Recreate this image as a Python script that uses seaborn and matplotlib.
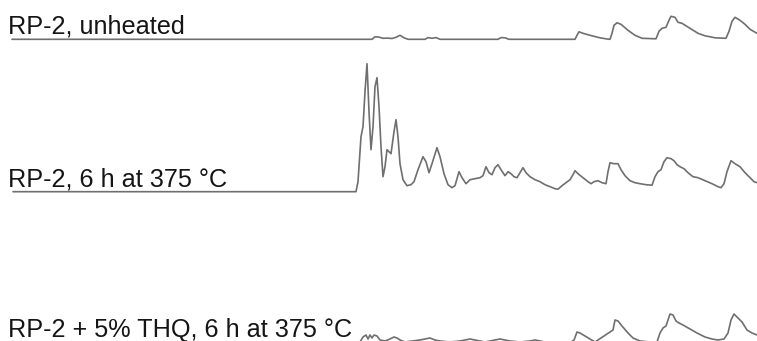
import numpy as np
import pandas as pd
import matplotlib
matplotlib.use("Agg")
import matplotlib.pyplot as plt
import seaborn as sns

# ---- data (retention position, signal height above each trace's baseline) ----
labels = ["RP-2, unheated", "RP-2, 6 h at 375 \u00b0C", "RP-2 + 5% THQ, 6 h at 375 \u00b0C"]

t1_x = [12, 372, 375, 379, 383, 387, 392, 396, 400, 404, 408, 425, 428, 432, 436, 440, 498, 501, 505, 509,
        575, 577, 579, 583, 590, 600, 607, 610, 612, 614, 617, 621, 628, 635, 642, 656, 659, 662, 666, 669,
        671, 675, 678, 682, 690, 698, 705, 715, 726, 729, 732, 735, 740, 745, 750, 757]
t1_y = [0, 0, 2.5, 2.2, 1.0, 1.2, 0.8, 2.0, 4.0, 1.5, 0, 0, 1.7, 1.0, 1.7, 0, 0, 1.7, 1.5, 0,
        0, 4, 7.5, 6, 4, 1.5, 0.3, 0, 6, 14, 16.5, 15, 9, 4, 1, 0.5, 8, 11, 12, 19,
        23, 22, 17, 16, 11, 6, 3.5, 1.5, 1, 8, 18, 22, 19, 15, 10, 6]

t2_x = [13, 356, 358, 361, 363, 365, 367, 369, 371, 373, 375, 377, 379, 381, 383, 385, 387, 389, 391, 394,
        396, 398, 400, 403, 407, 411, 414, 418, 423, 426, 429, 432, 437, 440, 444, 448, 452, 455, 459, 462,
        466, 470, 475, 480, 483, 486, 489, 492, 495, 498, 501, 505, 508, 511, 514, 517, 520, 523, 526, 530,
        535, 540, 545, 550, 555, 558, 562, 566, 570, 573, 575, 578, 583, 588, 591, 594, 598, 602, 606, 608,
        610, 614, 618, 621, 625, 630, 635, 640, 646, 652, 655, 658, 661, 664, 667, 671, 674, 677, 680, 684,
        688, 693, 698, 705, 712, 718, 721, 724, 727, 731, 735, 740, 745, 750, 754, 757]
t2_y = [0, 0, 10, 55, 65, 100, 128, 80, 42, 65, 105, 114, 85, 45, 15, 25, 42, 40, 38, 60,
        72, 55, 28, 12, 6, 7, 10, 22, 35, 30, 19, 28, 44, 35, 18, 7, 4, 6, 20, 14,
        8, 12, 13, 14, 16, 25, 19, 17, 24, 27, 22, 16, 20, 18, 15, 14, 19, 24, 19, 15,
        12, 10, 7, 5, 3, 2.5, 6, 9, 12, 17, 21, 18, 14, 10, 8, 10, 11, 9, 8, 20,
        29, 28, 28, 22, 16, 11, 9, 8, 7, 6.5, 15, 20, 22, 30, 34, 33, 31, 27, 25, 23,
        19, 15, 14, 11, 8, 5, 4, 8, 20, 31, 28, 25, 19, 14, 10, 9]

t3_x = [12, 356, 360, 363, 366, 368, 370, 372, 374, 377, 380, 385, 390, 394, 397, 400, 405, 410, 415, 420,
        425, 430, 435, 440, 450, 460, 465, 470, 475, 480, 485, 490, 495, 500, 505, 510, 520, 530, 535, 540,
        550, 560, 570, 574, 577, 580, 585, 590, 595, 605, 611, 613, 615, 618, 622, 628, 633, 640, 650, 657,
        660, 663, 666, 668, 670, 673, 676, 679, 683, 690, 697, 705, 712, 718, 724, 728, 731, 734, 738, 742,
        747, 752, 757]
t3_y = [0, 0, 3, 8, 10, 6, 10, 7, 10, 9, 5, 4, 6, 8, 7, 5, 3, 2, 3, 5,
        6, 7, 5, 4, 3, 4, 5, 6, 5, 4, 3, 4, 5, 6, 5, 4, 3, 4, 5, 4,
        2, 2, 2, 5, 13, 12, 9, 6, 3, 2, 3, 15, 25, 24, 19, 12, 7, 4, 3, 3,
        12, 17, 19, 25, 31, 30, 24, 22, 20, 16, 12, 8, 6, 5, 6, 12, 25, 31, 27, 23,
        15, 12, 10]

offsets = [301.7, 149.3, -4.0]   # stacking offsets of each trace
label_y = [307.7, 154.3, 4.3]

frames = []
for lab, xs, ys, off in zip(labels, [t1_x, t2_x, t3_x], [t1_y, t2_y, t3_y], offsets):
    frames.append(pd.DataFrame({"x": xs, "y": np.array(ys, float) + off, "trace": lab}))
df = pd.concat(frames, ignore_index=True)

sns.set_style("white")
plt.rcParams["font.family"] = ["Liberation Sans", "DejaVu Sans"]

fig = plt.figure(figsize=(7.57, 3.41), dpi=100)
ax = fig.add_axes([0, 0, 1, 1])
sns.lineplot(data=df, x="x", y="y", hue="trace", palette=["#6f6f6f"] * 3,
             legend=False, ax=ax, linewidth=1.2, sort=False, estimator=None,
             solid_joinstyle="round")
for lab, ly in zip(labels, label_y):
    ax.text(8, ly, lab, fontsize=18.2, color="#151515", va="baseline", ha="left")

ax.set_xlim(0, 757)
ax.set_ylim(0, 341)
ax.axis("off")
fig.savefig("out.png", dpi=100, facecolor="white")
